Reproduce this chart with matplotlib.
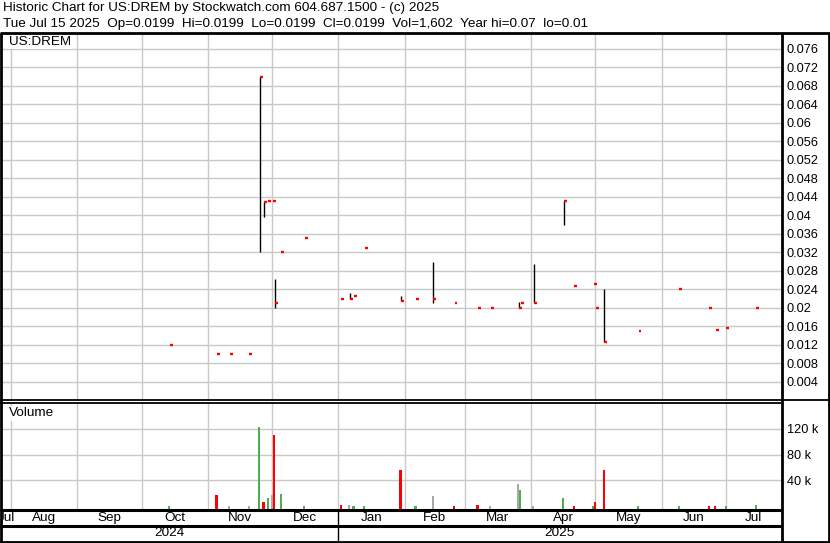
import matplotlib
matplotlib.use("Agg")
import matplotlib.pyplot as plt
import matplotlib.dates as mdates
from matplotlib.lines import Line2D
import numpy as np
from datetime import date

plt.rcParams['font.family'] = ['Liberation Sans', 'DejaVu Sans']

# ---------------- data ----------------
dates = ["2024-10-14", "2024-11-05", "2024-11-11", "2024-11-20", "2024-11-25",
         "2024-11-27", "2024-11-29", "2024-12-01", "2024-12-02", "2024-12-05",
         "2024-12-16", "2025-01-02", "2025-01-06", "2025-01-08", "2025-01-13",
         "2025-01-30", "2025-02-06", "2025-02-14", "2025-02-24", "2025-03-07",
         "2025-03-13", "2025-03-26", "2025-03-27", "2025-04-02", "2025-04-16",
         "2025-04-21", "2025-04-30", "2025-05-01", "2025-05-05", "2025-05-21",
         "2025-06-09", "2025-06-23", "2025-06-26", "2025-07-01", "2025-07-15"]
highs = [0.012, 0.010, 0.010, 0.010, 0.070,
         0.0429, 0.043, 0.043, 0.0262, 0.032,
         0.035, 0.022, 0.0232, 0.0226, 0.033,
         0.0226, 0.022, 0.030, 0.021, 0.020,
         0.020, 0.0212, 0.021, 0.0295, 0.043,
         0.0248, 0.0252, 0.020, 0.024, 0.015,
         0.024, 0.020, 0.0153, 0.0157, 0.0199]
lows = [0.012, 0.010, 0.010, 0.010, 0.032,
        0.0397, 0.043, 0.043, 0.020, 0.032,
        0.035, 0.022, 0.022, 0.0226, 0.033,
        0.0215, 0.022, 0.0211, 0.021, 0.020,
        0.020, 0.020, 0.021, 0.021, 0.038,
        0.0248, 0.0252, 0.020, 0.0125, 0.015,
        0.024, 0.020, 0.0153, 0.0157, 0.0199]
closes = [0.012, 0.010, 0.010, 0.010, 0.070,
          0.0429, 0.043, 0.043, 0.0211, 0.032,
          0.035, 0.022, 0.022, 0.0226, 0.033,
          0.0215, 0.022, 0.022, 0.021, 0.020,
          0.020, 0.020, 0.021, 0.021, 0.043,
          0.0248, 0.0252, 0.020, 0.0125, 0.015,
          0.024, 0.020, 0.0153, 0.0157, 0.0199]
volumes = [1000, 18000, 1000, 1000, 122000,
           7000, 13000, 17500, 110000, 19000,
           1000, 1500, 2000, 1000, 1000,
           56000, 1000, 16000, 1000, 2500,
           1000, 34500, 25000, 1000, 13000,
           1000, 1000, 7000, 56000, 1000,
           1000, 1000, 1000, 1000, 1602]

price_ticks = [0.004, 0.008, 0.012, 0.016, 0.020, 0.024, 0.028, 0.032, 0.036,
               0.040, 0.044, 0.048, 0.052, 0.056, 0.060, 0.064, 0.068, 0.072, 0.076]
vol_ticks = [40000, 80000, 120000]
vol_tick_labels = ["40 k", "80 k", "120 k"]
month_names = ["Jul", "Aug", "Sep", "Oct", "Nov", "Dec", "Jan", "Feb", "Mar",
               "Apr", "May", "Jun", "Jul"]
year_labels = ["2024", "2025"]

title1 = "Historic Chart for US:DREM by Stockwatch.com 604.687.1500 - (c) 2025"
title2 = ("Tue Jul 15 2025  Op=0.0199  Hi=0.0199  Lo=0.0199  Cl=0.0199  "
          "Vol=1,602  Year hi=0.07  lo=0.01")

# ---------------- styling ----------------
W, H = 830, 543
RED = "#ff0000"
GREEN = "#4cb04c"
GREY = "#a8a8a8"
GRID = "#c8c8c8"
FS_TICK = 9.2
FS_TXT = 9.7

def fx(x):
    return x / W

def fy(y):
    return 1 - y / H

def rect(l, t, r, b):
    return [fx(l), fy(b), fx(r) - fx(l), fy(t) - fy(b)]

d = mdates.datestr2num(dates)
hi = np.array(highs)
lo = np.array(lows)
cl = np.array(closes)
vol = np.array(volumes)

colors = [GREEN]
for i in range(1, len(cl)):
    if np.isclose(cl[i], cl[i - 1]):
        colors.append(GREY)
    elif cl[i] > cl[i - 1]:
        colors.append(GREEN)
    else:
        colors.append(RED)

x0 = mdates.date2num(date(2024, 7, 27)) + 0.3
x1 = mdates.date2num(date(2025, 7, 26)) + 0.8

fig = plt.figure(figsize=(W / 100, H / 100), dpi=100)
fig.patch.set_facecolor("white")

month_starts = [mdates.date2num(date(2024 + (m - 1) // 12, (m - 1) % 12 + 1, 1))
                for m in range(7, 20)]

# ----- price panel -----
axp = fig.add_axes(rect(1, 33, 781, 401))
axp.set_xlim(x0, x1)
axp.set_ylim(-0.00015, 0.07942)
for v in price_ticks:
    axp.axhline(v, color=GRID, lw=1.0, zorder=1)
for m in month_starts:
    axp.axvline(m, color=GRID, lw=1.0, zorder=1)
axp.vlines(d + 0.3, lo, hi, color="black", lw=1.0, zorder=3)
axp.hlines(cl, d + 0.3, d + 1.6, color=RED, lw=1.7, zorder=4)
axp.set_yticks(price_ticks)
axp.set_yticklabels([f"{v:g}" for v in price_ticks])
axp.yaxis.tick_right()
axp.tick_params(axis="y", length=0, pad=4, labelsize=FS_TICK)
axp.set_xticks([])
for s in axp.spines.values():
    s.set_visible(False)
axp.text(8 / 780, 1 - 9 / 368, "US:DREM", transform=axp.transAxes, fontsize=FS_TXT,
         va="center", ha="left", zorder=6,
         bbox=dict(facecolor="white", edgecolor="none", pad=1.0))

# ----- volume panel -----
axv = fig.add_axes(rect(1, 403.5, 781, 509))
axv.set_xlim(x0, x1)
vlo, vhi = -4150, 158900
axv.set_ylim(vlo, vhi)
for v in vol_ticks:
    axv.axhline(v, color=GRID, lw=1.0, zorder=1)
for m in month_starts:
    axv.axvline(m, color=GRID, lw=1.0, zorder=1)
axv.bar(d, vol - vlo, bottom=vlo, width=1.0, color=colors, zorder=3, linewidth=0)
axv.set_yticks(vol_ticks)
axv.set_yticklabels(vol_tick_labels)
axv.yaxis.tick_right()
axv.tick_params(axis="y", length=0, pad=4, labelsize=FS_TICK)
axv.set_xticks([])
for s in axv.spines.values():
    s.set_visible(False)
axv.text(8 / 780, 1 - 10 / 105.5, "Volume", transform=axv.transAxes, fontsize=FS_TXT,
         va="center", ha="left", zorder=6,
         bbox=dict(facecolor="white", edgecolor="none", pad=1.0))

# ----- month row -----
axm = fig.add_axes(rect(1, 510, 781, 526))
axm.set_xlim(x0, x1)
axm.set_ylim(0, 1)
axm.axis("off")
for i, name in enumerate(month_names):
    a = mdates.date2num(date(2024 + (i + 6) // 12, (i + 6) % 12 + 1, 1))
    b = mdates.date2num(date(2024 + (i + 7) // 12, (i + 7) % 12 + 1, 1))
    a2, b2 = max(a, x0), min(b, x1)
    axm.text((a2 + b2) / 2, 0.5, name, ha="center", va="center", fontsize=FS_TXT,
             clip_on=True)

# ----- year row -----
axy = fig.add_axes(rect(1, 526, 781, 541))
axy.set_xlim(x0, x1)
axy.set_ylim(0, 1)
axy.axis("off")
jan1 = mdates.date2num(date(2025, 1, 1))
axy.text((x0 + jan1) / 2, 0.5, year_labels[0], ha="center", va="center", fontsize=FS_TXT)
axy.text((jan1 + x1) / 2, 0.5, year_labels[1], ha="center", va="center", fontsize=FS_TXT)

# ----- frame lines (figure pixel coordinates) -----
def fline(xa, ya, xb, yb, lw=1.5):
    fig.add_artist(Line2D([fx(xa), fx(xb)], [fy(ya), fy(yb)], color="black",
                          lw=lw, transform=fig.transFigure, zorder=10,
                          solid_capstyle="butt"))

jx = 1 + (jan1 - x0) / (x1 - x0) * 780
fline(0, 33, 830, 33, 2.0)           # top
fline(0.75, 33, 0.75, 543, 2.0)      # left
fline(781.5, 33, 781.5, 541, 2.0)    # right of plot
fline(828.5, 33, 828.5, 541, 2.0)    # outer right
fline(0, 541.5, 830, 541.5, 2.0)     # bottom
fline(0, 400, 830, 400, 1.3)         # price / volume
fline(0, 403, 781, 403, 1.3)
fline(0, 509.5, 781, 509.5, 2.2)     # below volume
fline(0, 526, 781, 526, 2.2)         # below months
fline(jx, 509.5, jx, 541, 1.0)       # year divider

fig.text(fx(3), fy(8), title1, fontsize=FS_TXT, ha="left", va="center")
fig.text(fx(3), fy(24), title2, fontsize=FS_TXT, ha="left", va="center")

fig.savefig("out.png", dpi=100, facecolor="white")
